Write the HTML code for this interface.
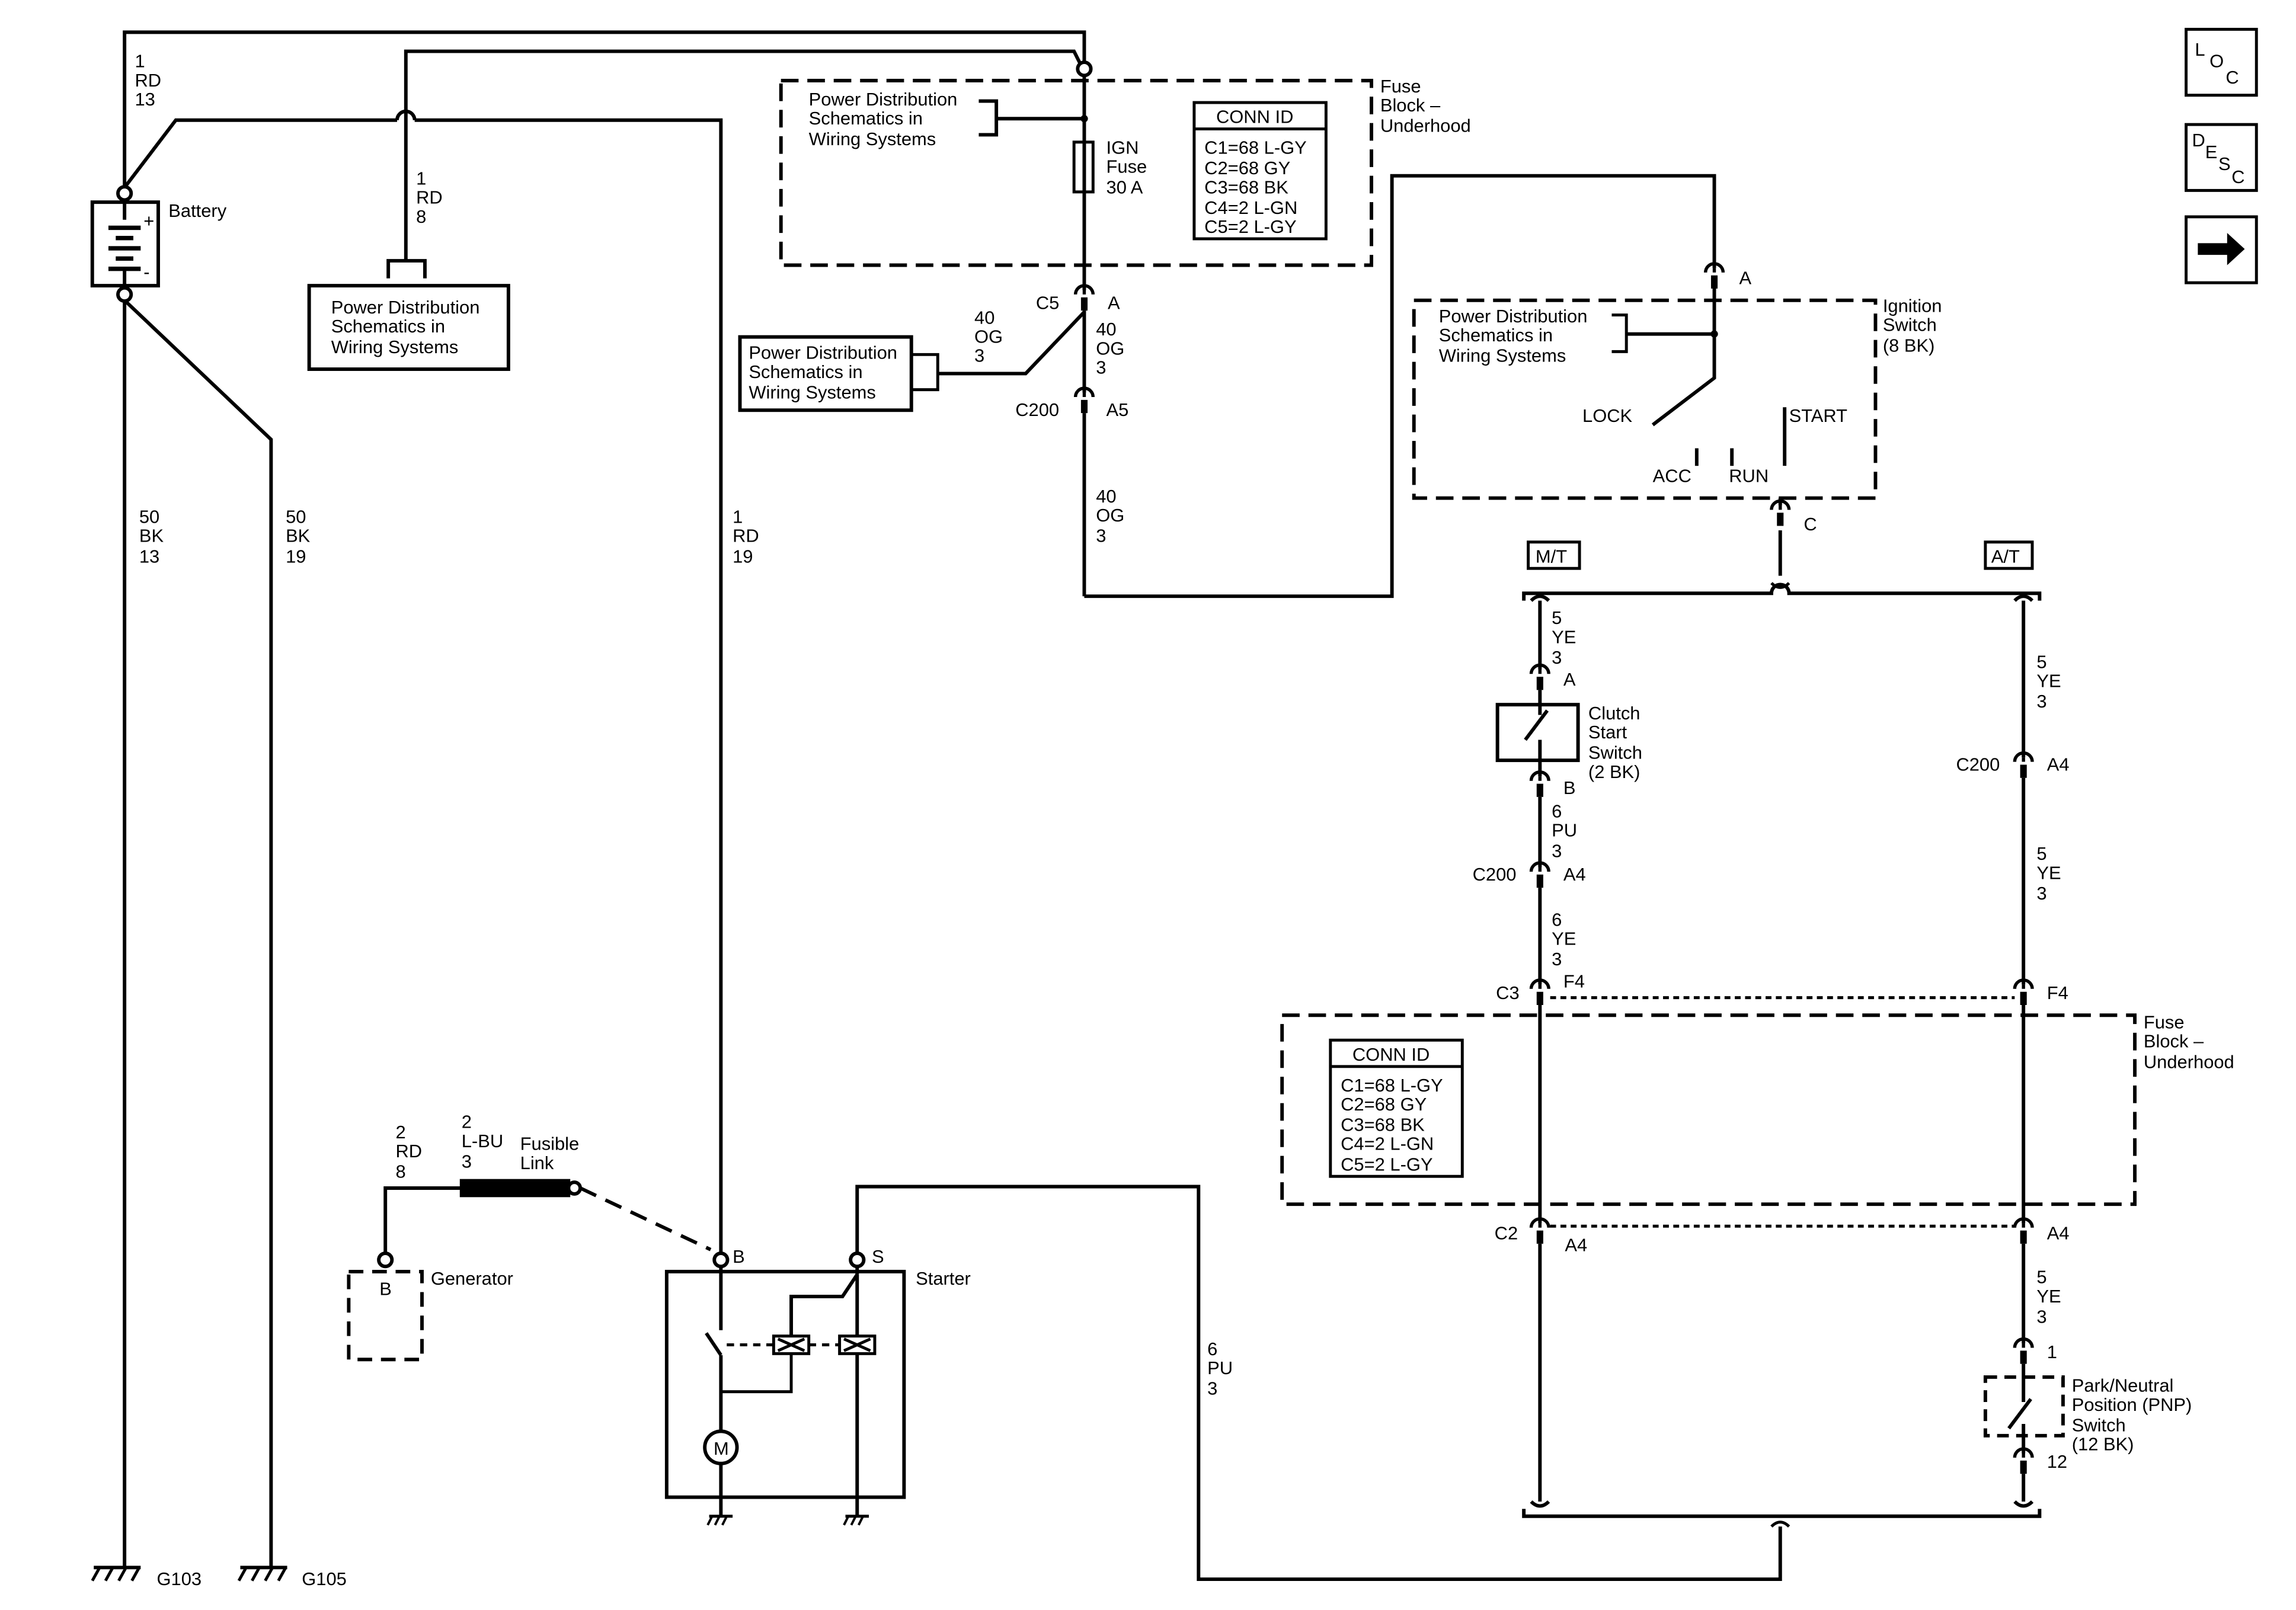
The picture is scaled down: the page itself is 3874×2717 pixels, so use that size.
<!DOCTYPE html>
<html><head><meta charset="utf-8"><style>
html,body{margin:0;padding:0;background:#fff}
svg{display:block}
text{font-family:"Liberation Sans",Arial,sans-serif;font-size:12.5px;fill:#000}
</style></head><body>
<svg width="3874" height="2717" viewBox="0 0 1567 1099" xmlns="http://www.w3.org/2000/svg">
<defs>
<g id="cn"><path d="M-6,3 A6,6 0 0 1 6,3" fill="none" stroke="#000" stroke-width="2.2"/><line x1="0" y1="0" x2="0" y2="3" stroke="#000" stroke-width="2.2"/><line x1="0" y1="5" x2="0" y2="14" stroke="#000" stroke-width="4.5"/></g>
<g id="gnd"><line x1="-18" y1="0" x2="14" y2="0" stroke="#000" stroke-width="2.4"/><line x1="-14" y1="0" x2="-19" y2="9" stroke="#000" stroke-width="2"/><line x1="-5" y1="0" x2="-10" y2="9" stroke="#000" stroke-width="2"/><line x1="4" y1="0" x2="-1" y2="9" stroke="#000" stroke-width="2"/><line x1="13" y1="0" x2="8" y2="9" stroke="#000" stroke-width="2"/></g>
<g id="sg"><line x1="-8" y1="0" x2="8" y2="0" stroke="#000" stroke-width="2"/><line x1="-6" y1="0" x2="-9" y2="6" stroke="#000" stroke-width="1.6"/><line x1="-1" y1="0" x2="-4" y2="6" stroke="#000" stroke-width="1.6"/><line x1="4" y1="0" x2="1" y2="6" stroke="#000" stroke-width="1.6"/></g>
</defs>
<g fill="none" stroke="#000" stroke-width="2.4">
<polyline points="85,128 85,22 740,22 740,42"/>
<circle cx="740" cy="47" r="4.5"/>
<polyline points="277,178 277,35 733,35 737,43"/>
<polyline points="85,128 120,82 271,82"/>
<path d="M271,82 A6,6 0 0 1 283,82"/>
<polyline points="283,82 492,82 492,855"/>
<circle cx="85" cy="132" r="4.5"/><circle cx="85" cy="201" r="4.5"/>
<rect x="63" y="138" width="45" height="57"/>
<line x1="85" y1="138" x2="85" y2="150"/><line x1="85" y1="182" x2="85" y2="195"/>
<polyline points="85,205 85,1070"/>
<polyline points="85,205 185,300 185,1070"/>
<rect x="211" y="195" width="136" height="57"/>
<polyline points="265,190 265,178 290,178 290,190"/>
<rect x="533" y="55" width="403" height="126" stroke-dasharray="12,6"/>
<polyline points="668,69 680,69 680,92 668,92"/>
<line x1="680" y1="81" x2="740" y2="81"/>
<line x1="740" y1="52" x2="740" y2="198"/>
<rect x="733" y="97" width="13" height="34" stroke-width="2"/>
<rect x="815" y="70" width="90" height="93" stroke-width="2"/>
<line x1="815" y1="88" x2="905" y2="88" stroke-width="2"/>
<line x1="740" y1="212" x2="740" y2="268"/>
<line x1="740" y1="282" x2="740" y2="407"/>
<polyline points="740,407 950,407 950,120 1170,120 1170,183"/>
<polyline points="740,213 700,255 640,255"/>
<rect x="505" y="230" width="117" height="50"/>
<polyline points="622,242 640,242 640,266 622,266" stroke-width="2"/>
<rect x="965" y="205" width="315" height="135" stroke-dasharray="12,6"/>
<polyline points="1100,215 1110,215 1110,240 1100,240" stroke-width="2"/>
<line x1="1110" y1="228" x2="1170" y2="228"/>
<polyline points="1170,197 1170,258 1128,290"/>
<line x1="1218" y1="278" x2="1218" y2="318"/>
<line x1="1158" y1="306" x2="1158" y2="318"/>
<line x1="1182" y1="306" x2="1182" y2="318"/>
<line x1="1215" y1="340" x2="1215" y2="345"/>
<line x1="1215" y1="362" x2="1215" y2="393"/>
<path d="M1040,410 L1040,405 L1209,405 A6,6 0 0 1 1221,405 L1392,405 L1392,410"/>
<path d="M1209,398 Q1215,404 1221,398" stroke-width="2"/>
<rect x="1043" y="370" width="35" height="18" stroke-width="2"/>
<rect x="1355" y="370" width="32" height="18" stroke-width="2"/>
<path d="M1045,410 Q1051,404 1057,410"/>
<path d="M1375,410 Q1381,404 1387,410"/>
<line x1="1051" y1="410" x2="1051" y2="457"/>
<rect x="1022" y="481" width="55" height="38"/>
<line x1="1051" y1="471" x2="1051" y2="488"/>
<line x1="1041" y1="505" x2="1056" y2="485"/>
<line x1="1051" y1="505" x2="1051" y2="530"/>
<line x1="1051" y1="544" x2="1051" y2="592"/>
<line x1="1051" y1="606" x2="1051" y2="672"/>
<line x1="1051" y1="686" x2="1051" y2="835"/>
<line x1="1051" y1="849" x2="1051" y2="1025"/>
<line x1="1381" y1="410" x2="1381" y2="517"/>
<line x1="1381" y1="531" x2="1381" y2="672"/>
<line x1="1381" y1="686" x2="1381" y2="835"/>
<line x1="1381" y1="849" x2="1381" y2="917"/>
<line x1="1381" y1="931" x2="1381" y2="957"/>
<line x1="1371" y1="975" x2="1386" y2="955"/>
<line x1="1381" y1="972" x2="1381" y2="992"/>
<line x1="1381" y1="1006" x2="1381" y2="1025"/>
<rect x="1355" y="940" width="53" height="40" stroke-dasharray="8,5"/>
<line x1="1058" y1="681" x2="1375" y2="681" stroke-dasharray="4,3" stroke-width="2"/>
<line x1="1058" y1="837" x2="1375" y2="837" stroke-dasharray="4,3" stroke-width="2"/>
<rect x="875" y="693" width="582" height="129" stroke-dasharray="12,6"/>
<rect x="908" y="710" width="90" height="93" stroke-width="2"/>
<line x1="908" y1="728" x2="998" y2="728" stroke-width="2"/>
<path d="M1045,1025 Q1051,1031 1057,1025"/>
<path d="M1375,1025 Q1381,1031 1387,1025"/>
<path d="M1040,1030 L1040,1035 L1392,1035 L1392,1030"/>
<path d="M1209,1042 Q1215,1036 1221,1042" stroke-width="2"/>
<polyline points="1215,1042 1215,1078 818,1078 818,810 585,810 585,855"/>
<rect x="238" y="868" width="50" height="60" stroke-dasharray="10,6"/>
<circle cx="263" cy="860" r="4.5"/>
<polyline points="263,855 263,811 315,811"/>
<rect x="315" y="806" width="73" height="10" fill="#000"/>
<circle cx="392" cy="811" r="4"/>
<line x1="396" y1="811" x2="485" y2="853" stroke-dasharray="12,7"/>
<circle cx="492" cy="860" r="4.5"/><circle cx="585" cy="860" r="4.5"/>
<rect x="455" y="868" width="162" height="154"/>
<line x1="492" y1="865" x2="492" y2="908"/>
<line x1="482" y1="910" x2="492" y2="925"/>
<line x1="492" y1="925" x2="492" y2="977"/>
<circle cx="492" cy="988" r="11"/>
<line x1="492" y1="999" x2="492" y2="1035"/>
<line x1="585" y1="865" x2="585" y2="870"/>
<polyline points="585,870 575,885 540,885 540,912"/>
<line x1="585" y1="870" x2="585" y2="912"/>
<rect x="528" y="912" width="24" height="12" stroke-width="2"/>
<rect x="573" y="912" width="24" height="12" stroke-width="2"/>
<path d="M531,914 L549,922 M549,914 L531,922 M576,914 L594,922 M594,914 L576,922" stroke-width="2"/>
<line x1="496" y1="918" x2="528" y2="918" stroke-dasharray="5,4" stroke-width="2"/>
<line x1="552" y1="918" x2="573" y2="918" stroke-dasharray="5,4" stroke-width="2"/>
<polyline points="540,924 540,950 492,950" stroke-width="2"/>
<line x1="585" y1="924" x2="585" y2="1035"/>
<rect x="1492" y="20" width="48" height="45" stroke-width="2"/>
<rect x="1492" y="85" width="48" height="45" stroke-width="2"/>
<rect x="1492" y="148" width="48" height="45" stroke-width="2"/>
</g>
<g fill="#000">
<rect x="74" y="154" width="22" height="3"/><rect x="79" y="161" width="12" height="3"/>
<rect x="74" y="168" width="22" height="3"/><rect x="79" y="175" width="12" height="3"/>
<rect x="74" y="182" width="22" height="3"/>
<circle cx="740" cy="81" r="2.5"/><circle cx="1170" cy="228" r="2.5"/>
<polygon points="1500,166 1520,166 1520,159 1532,170 1520,181 1520,174 1500,174"/>
</g>
<text x="98" y="155" font-size="8">+</text><text x="98" y="190" font-size="8">-</text>
<use href="#cn" x="740" y="198"/><use href="#cn" x="740" y="268"/>
<use href="#cn" x="1170" y="183"/><use href="#cn" x="1215" y="345"/>
<use href="#cn" x="1051" y="457"/><use href="#cn" x="1051" y="530"/>
<use href="#cn" x="1051" y="592"/><use href="#cn" x="1051" y="672"/>
<use href="#cn" x="1051" y="835"/>
<use href="#cn" x="1381" y="517"/><use href="#cn" x="1381" y="672"/>
<use href="#cn" x="1381" y="835"/><use href="#cn" x="1381" y="917"/>
<use href="#cn" x="1381" y="992"/>
<use href="#gnd" x="82" y="1070"/><use href="#gnd" x="182" y="1070"/>
<use href="#sg" x="492" y="1035"/><use href="#sg" x="585" y="1035"/>
<text x="92" y="46">1</text><text x="92" y="59">RD</text><text x="92" y="72">13</text>
<text x="284" y="126">1</text><text x="284" y="139">RD</text><text x="284" y="152">8</text>
<text x="115" y="148">Battery</text>
<text x="226" y="214">Power Distribution</text><text x="226" y="227">Schematics in</text><text x="226" y="241">Wiring Systems</text>
<text x="95" y="357">50</text><text x="95" y="370">BK</text><text x="95" y="384">13</text>
<text x="195" y="357">50</text><text x="195" y="370">BK</text><text x="195" y="384">19</text>
<text x="500" y="357">1</text><text x="500" y="370">RD</text><text x="500" y="384">19</text>
<text x="552" y="72">Power Distribution</text><text x="552" y="85">Schematics in</text><text x="552" y="99">Wiring Systems</text>
<text x="755" y="105">IGN</text><text x="755" y="118">Fuse</text><text x="755" y="132">30 A</text>
<text x="830" y="84">CONN ID</text>
<text x="822" y="105">C1=68 L-GY</text><text x="822" y="119">C2=68 GY</text><text x="822" y="132">C3=68 BK</text><text x="822" y="146">C4=2 L-GN</text><text x="822" y="159">C5=2 L-GY</text>
<text x="942" y="63">Fuse</text><text x="942" y="76">Block –</text><text x="942" y="90">Underhood</text>
<text x="707" y="211">C5</text><text x="756" y="211">A</text>
<text x="665" y="221">40</text><text x="665" y="234">OG</text><text x="665" y="247">3</text>
<text x="748" y="229">40</text><text x="748" y="242">OG</text><text x="748" y="255">3</text>
<text x="511" y="245">Power Distribution</text><text x="511" y="258">Schematics in</text><text x="511" y="272">Wiring Systems</text>
<text x="693" y="284">C200</text><text x="755" y="284">A5</text>
<text x="748" y="343">40</text><text x="748" y="356">OG</text><text x="748" y="370">3</text>
<text x="1187" y="194">A</text>
<text x="982" y="220">Power Distribution</text><text x="982" y="233">Schematics in</text><text x="982" y="247">Wiring Systems</text>
<text x="1285" y="213">Ignition</text><text x="1285" y="226">Switch</text><text x="1285" y="240">(8 BK)</text>
<text x="1080" y="288">LOCK</text><text x="1221" y="288">START</text>
<text x="1128" y="329">ACC</text><text x="1180" y="329">RUN</text>
<text x="1231" y="362">C</text>
<text x="1048" y="384">M/T</text><text x="1359" y="384">A/T</text>
<text x="1059" y="426">5</text><text x="1059" y="439">YE</text><text x="1059" y="453">3</text>
<text x="1067" y="468">A</text>
<text x="1084" y="491">Clutch</text><text x="1084" y="504">Start</text><text x="1084" y="518">Switch</text><text x="1084" y="531">(2 BK)</text>
<text x="1067" y="542">B</text>
<text x="1059" y="558">6</text><text x="1059" y="571">PU</text><text x="1059" y="585">3</text>
<text x="1005" y="601">C200</text><text x="1067" y="601">A4</text>
<text x="1059" y="632">6</text><text x="1059" y="645">YE</text><text x="1059" y="659">3</text>
<text x="1021" y="682">C3</text><text x="1067" y="674">F4</text>
<text x="1390" y="456">5</text><text x="1390" y="469">YE</text><text x="1390" y="483">3</text>
<text x="1335" y="526">C200</text><text x="1397" y="526">A4</text>
<text x="1390" y="587">5</text><text x="1390" y="600">YE</text><text x="1390" y="614">3</text>
<text x="1397" y="682">F4</text>
<text x="1463" y="702">Fuse</text><text x="1463" y="715">Block –</text><text x="1463" y="729">Underhood</text>
<text x="923" y="724">CONN ID</text>
<text x="915" y="745">C1=68 L-GY</text><text x="915" y="758">C2=68 GY</text><text x="915" y="772">C3=68 BK</text><text x="915" y="785">C4=2 L-GN</text><text x="915" y="799">C5=2 L-GY</text>
<text x="1020" y="846">C2</text><text x="1068" y="854">A4</text><text x="1397" y="846">A4</text>
<text x="1390" y="876">5</text><text x="1390" y="889">YE</text><text x="1390" y="903">3</text>
<text x="1397" y="927">1</text>
<text x="1414" y="950">Park/Neutral</text><text x="1414" y="963">Position (PNP)</text><text x="1414" y="977">Switch</text><text x="1414" y="990">(12 BK)</text>
<text x="1397" y="1002">12</text>
<text x="270" y="777">2</text><text x="270" y="790">RD</text><text x="270" y="804">8</text>
<text x="315" y="770">2</text><text x="315" y="783">L-BU</text><text x="315" y="797">3</text>
<text x="355" y="785">Fusible</text><text x="355" y="798">Link</text>
<text x="259" y="884">B</text><text x="294" y="877">Generator</text>
<text x="500" y="862">B</text><text x="595" y="862">S</text><text x="625" y="877">Starter</text>
<text x="487" y="993" font-size="11">M</text>
<text x="824" y="925">6</text><text x="824" y="938">PU</text><text x="824" y="952">3</text>
<text x="107" y="1082">G103</text><text x="206" y="1082">G105</text>
<text x="1498" y="38" font-size="12">L</text><text x="1508" y="46" font-size="12">O</text><text x="1519" y="57" font-size="12">C</text>
<text x="1496" y="100" font-size="12">D</text><text x="1505" y="108" font-size="12">E</text><text x="1514" y="116" font-size="12">S</text><text x="1523" y="125" font-size="12">C</text>
</svg>
</body></html>
